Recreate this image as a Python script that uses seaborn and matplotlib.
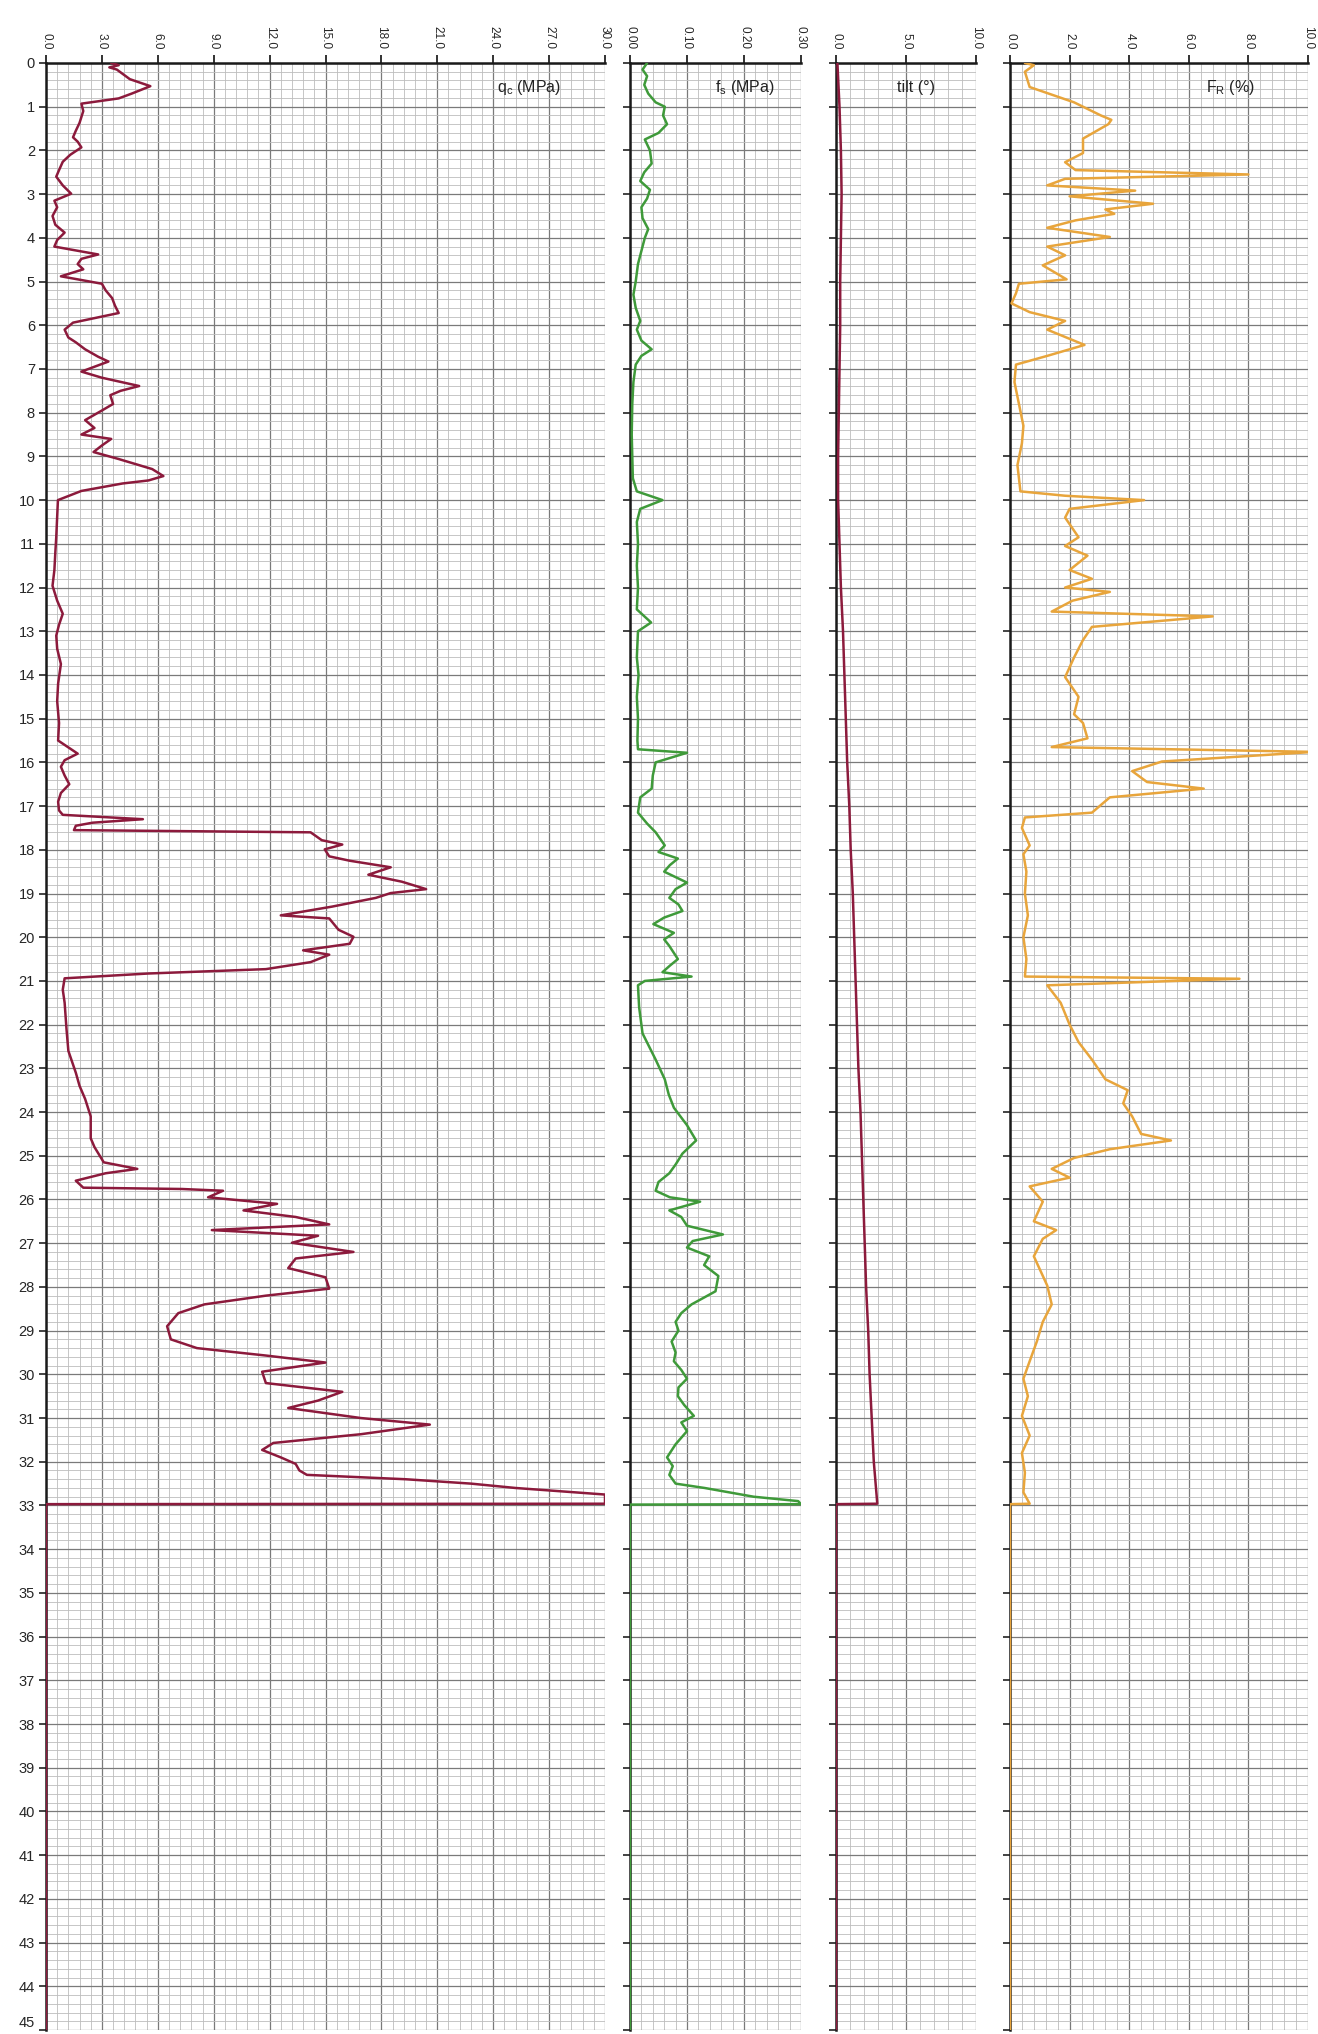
import numpy as np
import pandas as pd
import matplotlib
matplotlib.use("Agg")
import matplotlib.pyplot as plt
import matplotlib.transforms as mtransforms
from matplotlib.ticker import MultipleLocator, FixedLocator, FixedFormatter
import seaborn as sns

# ---------------- data ----------------
qc_depth = [0.0, 0.05, 0.1, 0.15, 0.37, 0.53, 0.7, 0.81, 0.93, 1.1, 1.37, 1.55, 1.7, 1.8, 1.93, 2.1, 2.26, 2.45,
            2.6, 2.8, 2.99, 3.15, 3.3, 3.5, 3.7, 3.88, 4.05, 4.2, 4.38, 4.48, 4.6, 4.72, 4.88, 5.05, 5.2, 5.38,
            5.55, 5.72, 5.94, 6.1, 6.28, 6.39, 6.55, 6.72, 6.83, 7.06, 7.2, 7.39, 7.5, 7.6, 7.8, 7.95, 8.17, 8.35,
            8.5, 8.6, 8.75, 8.9, 9.06, 9.29, 9.45, 9.55, 9.62, 9.79, 10.0, 10.4, 10.85, 11.2, 11.6, 11.96, 12.3,
            12.6, 12.85, 13.1, 13.4, 13.75, 14.2, 14.6, 15.1, 15.5, 15.8, 15.95, 16.1, 16.3, 16.5, 16.7, 16.9,
            17.1, 17.2, 17.3, 17.38, 17.45, 17.55, 17.6, 17.78, 17.88, 17.99, 18.15, 18.25, 18.4, 18.57, 18.73,
            18.9, 18.99, 19.1, 19.3, 19.5, 19.57, 19.83, 19.99, 20.15, 20.3, 20.4, 20.57, 20.73, 20.83, 20.94,
            21.2, 21.5, 21.8, 22.1, 22.6, 23.1, 23.4, 23.7, 24.1, 24.6, 24.8, 25.15, 25.3, 25.4, 25.57, 25.73,
            25.76, 25.8, 25.95, 26.1, 26.25, 26.4, 26.57, 26.7, 26.83, 26.99, 27.2, 27.35, 27.57, 27.78, 28.04,
            28.2, 28.4, 28.6, 28.9, 29.2, 29.4, 29.57, 29.73, 29.94, 30.2, 30.4, 30.6, 30.77, 31.0, 31.15, 31.37,
            31.57, 31.73, 31.9, 32.05, 32.2, 32.3, 32.4, 32.5, 32.6, 32.75, 32.96, 32.97, 45.0]
qc_value = [3.5, 3.9, 3.4, 3.8, 4.5, 5.6, 4.6, 3.9, 1.9, 2.0, 1.8, 1.6, 1.45, 1.7, 1.9, 1.3, 0.9, 0.7,
            0.55, 0.9, 1.35, 0.45, 0.6, 0.35, 0.5, 1.0, 0.6, 0.45, 2.8, 1.9, 1.7, 2.0, 0.8, 3.0, 3.2, 3.55,
            3.7, 3.9, 1.45, 1.0, 1.2, 1.6, 2.1, 2.8, 3.35, 1.9, 3.0, 5.0, 4.0, 3.45, 3.6, 3.0, 2.1, 2.6,
            1.9, 3.5, 3.0, 2.55, 3.9, 5.7, 6.3, 5.5, 4.1, 1.9, 0.64, 0.6, 0.55, 0.5, 0.45, 0.35, 0.6,
            0.9, 0.7, 0.55, 0.6, 0.8, 0.65, 0.6, 0.7, 0.65, 1.7, 1.0, 0.8, 1.0, 1.25, 0.8, 0.65,
            0.7, 0.9, 5.2, 2.5, 1.6, 1.5, 14.2, 14.8, 15.9, 14.96, 15.2, 16.3, 18.5, 17.3, 19.1,
            20.4, 18.5, 17.7, 15.35, 12.6, 15.2, 15.7, 16.5, 16.3, 13.8, 15.2, 14.2, 11.8, 5.5, 1.0,
            0.9, 1.0, 1.05, 1.1, 1.2, 1.6, 1.8, 2.1, 2.4, 2.4, 2.6, 3.1, 4.9, 3.2, 1.6, 2.0,
            7.3, 9.5, 8.7, 12.4, 10.6, 13.4, 15.2, 8.9, 14.6, 13.2, 16.5, 13.4, 13.0, 15.0, 15.2,
            11.8, 8.5, 7.1, 6.5, 6.7, 8.1, 11.8, 15.0, 11.6, 11.8, 15.9, 14.6, 13.0, 16.9, 20.6, 16.9,
            12.2, 11.6, 12.6, 13.4, 13.6, 14.0, 19.3, 22.8, 25.2, 30.0, 30.0, 0.0, 0.0]

fs_depth = [0.0, 0.15, 0.3, 0.5, 0.7, 0.9, 1.0, 1.2, 1.4, 1.6, 1.75, 2.0, 2.3, 2.5, 2.7, 2.9, 3.1, 3.3, 3.55,
            3.8, 4.0, 4.3, 4.6, 5.0, 5.3, 5.6, 5.9, 6.1, 6.35, 6.55, 6.7, 6.9, 7.3, 7.8, 8.5, 9.0, 9.5, 9.8,
            10.0, 10.2, 10.5, 11.0, 11.5, 12.0, 12.5, 12.8, 13.0, 13.6, 14.0, 14.5, 15.0, 15.5, 15.7, 15.78,
            16.0, 16.3, 16.6, 16.8, 17.15, 17.4, 17.6, 17.9, 18.05, 18.2, 18.35, 18.5, 18.75, 18.9, 19.1,
            19.25, 19.4, 19.55, 19.7, 19.9, 20.05, 20.2, 20.5, 20.65, 20.8, 20.9, 21.0, 21.1, 21.6, 22.2,
            22.8, 23.25, 23.6, 23.9, 24.3, 24.65, 24.95, 25.2, 25.4, 25.6, 25.8, 25.95, 26.05, 26.25, 26.4,
            26.6, 26.8, 26.95, 27.1, 27.3, 27.5, 27.75, 28.1, 28.4, 28.6, 28.8, 29.0, 29.25, 29.5, 29.7,
            29.9, 30.1, 30.3, 30.5, 30.7, 30.95, 31.1, 31.3, 31.6, 31.9, 32.1, 32.3, 32.5, 32.6, 32.8, 32.9,
            32.97, 32.98, 45.0]
fs_value = [0.03, 0.022, 0.03, 0.025, 0.032, 0.045, 0.061, 0.058, 0.065, 0.05, 0.026, 0.035, 0.038, 0.025,
            0.018, 0.035, 0.03, 0.02, 0.022, 0.032, 0.026, 0.02, 0.014, 0.01, 0.006, 0.01, 0.018, 0.012, 0.02,
            0.038, 0.02, 0.01, 0.006, 0.004, 0.003, 0.004, 0.005, 0.012, 0.057, 0.018, 0.012, 0.014, 0.012,
            0.014, 0.012, 0.037, 0.014, 0.012, 0.015, 0.012, 0.014, 0.013, 0.014, 0.1, 0.045, 0.04, 0.038,
            0.018, 0.014, 0.03, 0.045, 0.061, 0.05, 0.084, 0.07, 0.06, 0.1, 0.08, 0.069, 0.085, 0.092, 0.06,
            0.041, 0.077, 0.06, 0.069, 0.084, 0.07, 0.057, 0.108, 0.026, 0.014, 0.016, 0.022, 0.045, 0.061,
            0.068, 0.077, 0.1, 0.116, 0.092, 0.08, 0.069, 0.05, 0.045, 0.07, 0.123, 0.069, 0.09, 0.1, 0.163,
            0.11, 0.1, 0.139, 0.13, 0.155, 0.15, 0.108, 0.09, 0.08, 0.085, 0.073, 0.08, 0.077, 0.09, 0.1,
            0.085, 0.084, 0.095, 0.112, 0.09, 0.1, 0.08, 0.065, 0.075, 0.069, 0.08, 0.131, 0.217, 0.295,
            0.3, 0.0, 0.0]

tilt_depth = [0.0, 1.0, 2.0, 3.0, 4.0, 5.0, 6.0, 7.0, 8.0, 9.0, 10.0, 11.0, 12.0, 13.0, 14.0, 15.0, 16.0,
              17.0, 18.0, 19.0, 20.0, 21.0, 22.0, 23.0, 24.0, 25.0, 26.0, 27.0, 28.0, 29.0, 30.0, 31.0,
              32.0, 32.96, 32.97, 45.0]
tilt_value = [0.1, 0.25, 0.35, 0.4, 0.35, 0.3, 0.3, 0.25, 0.2, 0.15, 0.15, 0.25, 0.35, 0.5, 0.6, 0.7, 0.8,
              0.95, 1.05, 1.2, 1.3, 1.4, 1.5, 1.6, 1.75, 1.85, 1.95, 2.05, 2.15, 2.3, 2.4, 2.55, 2.7, 2.95,
              0.0, 0.0]

rf_depth = [0.0, 0.05, 0.2, 0.55, 0.9, 1.2, 1.3, 1.4, 1.73, 2.06, 2.27, 2.45, 2.55, 2.65, 2.8, 2.92, 3.05,
            3.22, 3.35, 3.45, 3.6, 3.77, 3.98, 4.2, 4.4, 4.63, 4.95, 5.05, 5.27, 5.5, 5.7, 5.9, 6.1, 6.45,
            6.7, 6.9, 7.3, 7.8, 8.3, 8.7, 9.2, 9.8, 9.9, 10.0, 10.2, 10.4, 10.85, 11.05, 11.27, 11.6, 11.8,
            12.0, 12.1, 12.3, 12.55, 12.66, 12.9, 13.2, 13.6, 14.05, 14.5, 14.9, 15.1, 15.45, 15.65, 15.76,
            15.98, 16.2, 16.45, 16.6, 16.8, 17.15, 17.26, 17.5, 17.9, 18.1, 18.5, 19.0, 19.5, 20.0, 20.5,
            20.9, 20.95, 21.1, 21.5, 22.0, 22.4, 22.8, 23.25, 23.5, 23.8, 24.1, 24.5, 24.65, 24.85, 25.05,
            25.3, 25.5, 25.7, 26.05, 26.5, 26.7, 26.9, 27.3, 27.97, 28.4, 28.8, 29.25, 29.7, 30.1, 30.5,
            30.95, 31.4, 31.8, 32.25, 32.7, 32.96, 32.97, 45.0]
rf_value = [0.5, 0.8, 0.5, 0.66, 2.15, 3.05, 3.4, 3.3, 2.45, 2.45, 1.85, 2.2, 8.0, 1.85, 1.25, 4.2, 2.0,
            4.8, 3.2, 3.5, 2.2, 1.25, 3.35, 1.25, 1.85, 1.1, 1.9, 0.3, 0.2, 0.05, 0.66, 1.85, 1.25, 2.5,
            1.25, 0.2, 0.15, 0.3, 0.45, 0.4, 0.25, 0.35, 1.85, 4.5, 2.0, 1.85, 2.3, 1.85, 2.6, 2.0, 2.75,
            1.85, 3.35, 2.1, 1.4, 6.8, 2.75, 2.45, 2.15, 1.85, 2.3, 2.15, 2.45, 2.6, 1.4, 10.2,
            5.1, 4.1, 4.6, 6.5, 3.35, 2.75, 0.5, 0.4, 0.66, 0.45, 0.55, 0.5, 0.6, 0.45, 0.55,
            0.5, 7.7, 1.25, 1.7, 2.0, 2.3, 2.75, 3.2, 3.95, 3.8, 4.1, 4.4, 5.4, 3.35, 2.15,
            1.4, 2.0, 0.66, 1.1, 0.8, 1.55, 1.1, 0.8, 1.25, 1.4, 1.1, 0.9, 0.66, 0.45, 0.6,
            0.4, 0.66, 0.4, 0.5, 0.45, 0.66, 0.0, 0.0]

depth_ticks = list(range(0, 46))
qc_ticks = [0, 3, 6, 9, 12, 15, 18, 21, 24, 27, 30]
qc_ticklabels = ["0.0", "3.0", "6.0", "9.0", "12.0", "15.0", "18.0", "21.0", "24.0", "27.0", "30.0"]
fs_ticks = [0.0, 0.1, 0.2, 0.3]
fs_ticklabels = ["0.00", "0.10", "0.20", "0.30"]
tilt_ticks = [0, 5, 10]
tilt_ticklabels = ["0.0", "5.0", "10.0"]
rf_ticks = [0, 2, 4, 6, 8, 10]
rf_ticklabels = ["0.0", "2.0", "4.0", "6.0", "8.0", "10.0"]

# ---------------- style ----------------
sns.set_theme(style="white")
plt.rcParams["font.family"] = ["Liberation Sans Narrow", "Liberation Sans", "DejaVu Sans"]
plt.rcParams["mathtext.default"] = "regular"

W, H = 1318, 2034
fig = plt.figure(figsize=(W / 100, H / 100), dpi=100)
fig.patch.set_facecolor("white")

top_px, bot_px = 63, 2030


def make_ax(x0, x1):
    return fig.add_axes([x0 / W, 1 - bot_px / H, (x1 - x0) / W, (bot_px - top_px) / H])


panels = [
    dict(x0=46, x1=605, lim=(0, 30), minor=0.6, ticks=qc_ticks, labels=qc_ticklabels,
         d=qc_depth, v=qc_value, color="#8c1a3c", title="q$_c$ (MPa)", tx=0.865, left=True),
    dict(x0=630, x1=801, lim=(0, 0.30), minor=0.02, ticks=fs_ticks, labels=fs_ticklabels,
         d=fs_depth, v=fs_value, color="#3f9a3a", title="f$_s$ (MPa)", tx=0.67, left=False),
    dict(x0=836, x1=976, lim=(0, 10), minor=1.0, ticks=tilt_ticks, labels=tilt_ticklabels,
         d=tilt_depth, v=tilt_value, color="#8c1a3c", title="tilt (°)", tx=0.57, left=False),
    dict(x0=1010, x1=1308, lim=(0, 10), minor=0.4, ticks=rf_ticks, labels=rf_ticklabels,
         d=rf_depth, v=rf_value, color="#e8a53c", title="F$_R$ (%)", tx=0.74, left=False),
]

for p in panels:
    ax = make_ax(p["x0"], p["x1"])
    ax.set_facecolor("white")
    df = pd.DataFrame({"value": p["v"], "depth": p["d"]})
    sns.lineplot(data=df, x="value", y="depth", sort=False, estimator=None, ax=ax,
                 color=p["color"], lw=1.8, zorder=5)
    ax.set_xlim(*p["lim"])
    ax.set_ylim(45, 0)
    ax.set_xlabel("")
    ax.set_ylabel("")

    ax.xaxis.set_major_locator(FixedLocator(p["ticks"]))
    ax.xaxis.set_major_formatter(FixedFormatter(p["labels"]))
    ax.xaxis.set_minor_locator(MultipleLocator(p["minor"]))
    ax.yaxis.set_major_locator(FixedLocator(depth_ticks))
    ax.yaxis.set_minor_locator(MultipleLocator(0.2))

    ax.grid(which="minor", color="#bdbdbd", lw=0.6, zorder=1)
    ax.grid(which="major", color="#7a7a7a", lw=0.9, zorder=2)
    ax.set_axisbelow(True)

    ax.xaxis.tick_top()
    ax.tick_params(axis="x", which="major", top=True, bottom=False, labeltop=True, labelbottom=False,
                   direction="out", length=6, width=1.3, color="#222222", labelsize=8.5,
                   labelrotation=-90, pad=4)
    ax.tick_params(axis="x", which="minor", top=False, bottom=False)
    ax.tick_params(axis="y", which="major", left=True, right=False, direction="out", length=5,
                   width=1.2, color="#222222", labelleft=p["left"], labelsize=10.5, pad=3)
    ax.tick_params(axis="y", which="minor", left=False, right=False)
    for lab in ax.get_xticklabels():
        lab.set_va("bottom")
        lab.set_ha("center")
    if p["left"]:
        ylabs = ax.get_yticklabels()
        ylabs[-1].set_va("bottom")

    for s in ["right", "bottom"]:
        ax.spines[s].set_visible(False)
    for s in ["left", "top"]:
        ax.spines[s].set_visible(True)
        ax.spines[s].set_color("#1a1a1a")
        ax.spines[s].set_linewidth(1.8)

    trans = mtransforms.blended_transform_factory(ax.transAxes, ax.transData)
    ax.text(p["tx"], 0.55, p["title"], transform=trans, ha="center", va="center",
            fontsize=11.5, color="#222222", zorder=6)

fig.savefig("out.png", dpi=100, facecolor="white")
